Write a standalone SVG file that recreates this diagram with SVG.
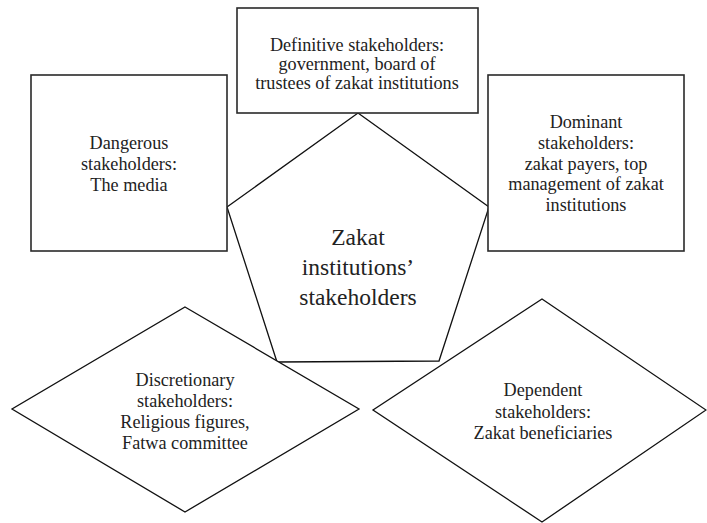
<svg xmlns="http://www.w3.org/2000/svg" width="707" height="523" viewBox="0 0 707 523">
<style>
.box{fill:#fff;stroke:#2a2a2a;stroke-width:1.6}
.shape{fill:#fff;stroke:#111;stroke-width:1.3}
.t{font-family:"Liberation Serif","Times New Roman",serif;font-size:18.2px;fill:#222;text-anchor:middle}
.c{font-family:"Liberation Serif","Times New Roman",serif;font-size:23.5px;fill:#222;text-anchor:middle}
</style>
<rect width="707" height="523" fill="#fff"/>
<g id="connectors"></g>
<g id="center">
<polygon class="shape" points="358,113 489,207 439,361 277,362 227,207"/>
<text class="c" x="358" y="245">Zakat</text>
<text class="c" x="358" y="275">institutions’</text>
<text class="c" x="358" y="305">stakeholders</text>
</g>
<g id="definitive">
<rect class="box" x="237" y="8" width="241" height="105"/>
<text class="t" x="357" y="51">Definitive stakeholders:</text>
<text class="t" x="357" y="70">government, board of</text>
<text class="t" x="357" y="89">trustees of zakat institutions</text>
</g>
<g id="dangerous">
<rect class="box" x="31" y="75" width="196" height="176"/>
<text class="t" x="129" y="149">Dangerous</text>
<text class="t" x="129" y="170">stakeholders:</text>
<text class="t" x="129" y="191">The media</text>
</g>
<g id="dominant">
<rect class="box" x="488" y="75" width="196" height="176"/>
<text class="t" x="586" y="128">Dominant</text>
<text class="t" x="586" y="149">stakeholders:</text>
<text class="t" x="586" y="170">zakat payers, top</text>
<text class="t" x="586" y="190">management of zakat</text>
<text class="t" x="586" y="211">institutions</text>
</g>
<g id="discretionary">
<polygon class="shape" points="185,307 359,409 185,512 12,409"/>
<text class="t" x="185" y="386">Discretionary</text>
<text class="t" x="185" y="407">stakeholders:</text>
<text class="t" x="185" y="428">Religious  figures,</text>
<text class="t" x="185" y="449">Fatwa committee</text>
</g>
<g id="dependent">
<polygon class="shape" points="542,299 706,410 542,522 373,410"/>
<text class="t" x="543" y="396">Dependent</text>
<text class="t" x="543" y="418">stakeholders:</text>
<text class="t" x="543" y="439">Zakat beneficiaries</text>
</g>
</svg>
